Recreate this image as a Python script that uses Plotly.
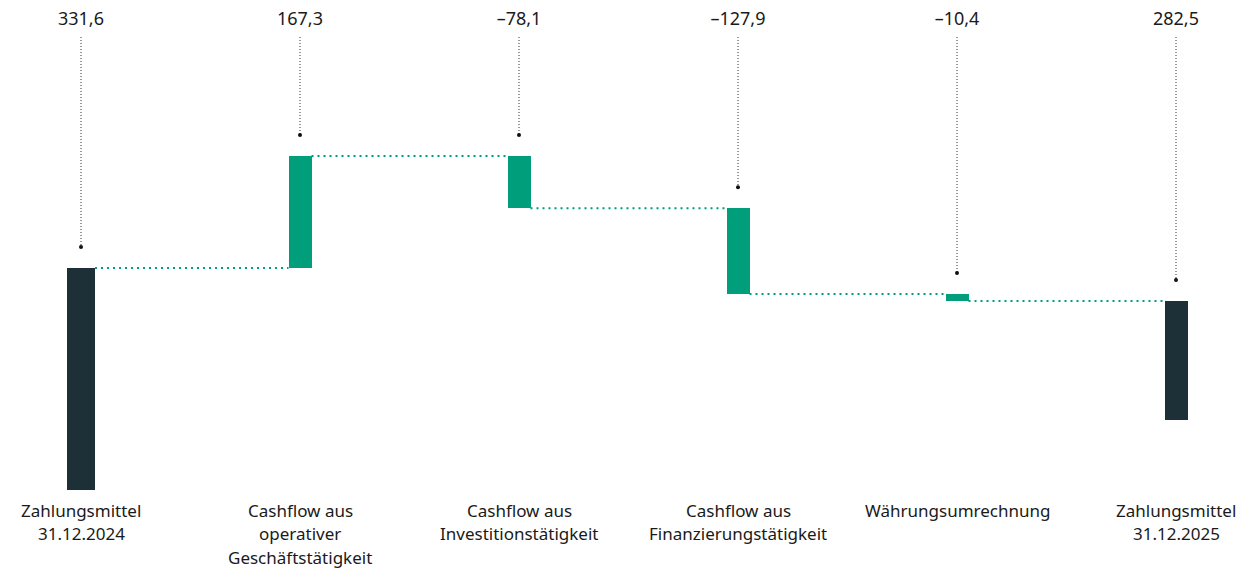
import plotly.graph_objects as go

categories = [
    "Zahlungsmittel<br>31.12.2024",
    "Cashflow aus<br>operativer<br>Geschäftstätigkeit",
    "Cashflow aus<br>Investitionstätigkeit",
    "Cashflow aus<br>Finanzierungstätigkeit",
    "Währungsumrechnung",
    "Zahlungsmittel<br>31.12.2025",
]
values = [331.6, 167.3, -78.1, -127.9, -10.4, 282.5]
value_labels = ["331,6", "167,3", "–78,1", "–127,9", "–10,4", "282,5"]
kinds = ["total", "relative", "relative", "relative", "relative", "total"]
# the closing bar is drawn shortened in the original graphic (its foot sits at about this value)
closing_bar_foot = 104.6

DARK = "#1d3037"
GREEN = "#009e7a"
TEXT = "#1a1a1a"
FONT = "Noto Sans"

W, H = 1243, 569
MB = 79
PLOT_H = H - MB
Y_MAX = 732.0
u = Y_MAX / PLOT_H  # value units per pixel

x = list(range(len(values)))
bases, heights, colors, widths, tops, ends = [], [], [], [], [], []
running = 0.0
for i, (v, k) in enumerate(zip(values, kinds)):
    if k == "total":
        start = 0.0 if i == 0 else closing_bar_foot
        end = v
        colors.append(DARK)
    else:
        start = running
        end = running + v
        colors.append(GREEN)
    running = end if k == "relative" else v
    lo, hi = min(start, end), max(start, end)
    bases.append(lo)
    heights.append(hi - lo)
    tops.append(hi)
    ends.append(running)
    widths.append(0.128 if i == 0 else 0.105)

fig = go.Figure()

# connectors
for i in range(len(values) - 1):
    xa = x[i] + widths[i] / 2
    xb = x[i + 1] - widths[i + 1] / 2
    fig.add_trace(go.Scatter(
        x=[xa, xb], y=[ends[i], ends[i]], mode="lines",
        line=dict(color=GREEN, width=2, dash="2px,4px"),
        hoverinfo="skip", showlegend=False,
    ))

fig.add_trace(go.Bar(
    x=x, y=heights, base=bases, width=widths,
    marker=dict(color=colors, line=dict(width=0)),
    showlegend=False, hoverinfo="skip",
))

# leader lines and dots
label_y = Y_MAX - 20 * u
line_top = Y_MAX - 37 * u
dot_y = [t + 21 * u for t in tops]
for i in range(len(values)):
    fig.add_trace(go.Scatter(
        x=[x[i], x[i]], y=[line_top, dot_y[i]], mode="lines",
        line=dict(color="#333333", width=1, dash="1px,2px"),
        hoverinfo="skip", showlegend=False,
    ))
fig.add_trace(go.Scatter(
    x=x, y=dot_y, mode="markers",
    marker=dict(color="#111111", size=4),
    hoverinfo="skip", showlegend=False,
))
fig.add_trace(go.Scatter(
    x=x, y=[label_y] * len(x), mode="text", text=value_labels,
    textposition="middle center",
    textfont=dict(family=FONT, size=18, color=TEXT),
    hoverinfo="skip", showlegend=False,
))

# category labels, one annotation per line for the original line spacing
annotations = []
first_line_px = 510
line_step_px = 23.5
for i, cat in enumerate(categories):
    for j, line in enumerate(cat.split("<br>")):
        py = first_line_px + j * line_step_px
        annotations.append(dict(
            x=x[i], xref="x", y=(PLOT_H - py) / PLOT_H, yref="paper",
            text=line, showarrow=False, xanchor="center", yanchor="middle",
            font=dict(family=FONT, size=17, color=TEXT),
        ))

px_per_cat = 219.0
x0 = -81.0 / px_per_cat
fig.update_layout(
    width=W, height=H,
    margin=dict(l=0, r=0, t=0, b=MB),
    paper_bgcolor="white", plot_bgcolor="white",
    font=dict(family=FONT, size=17, color=TEXT),
    xaxis=dict(
        range=[x0, x0 + W / px_per_cat],
        showticklabels=False,
        showgrid=False, zeroline=False, showline=False, ticks="",
        fixedrange=True,
    ),
    yaxis=dict(range=[0, Y_MAX], visible=False, fixedrange=True),
    annotations=annotations,
    bargap=0,
)

fig.write_html("out.html")
